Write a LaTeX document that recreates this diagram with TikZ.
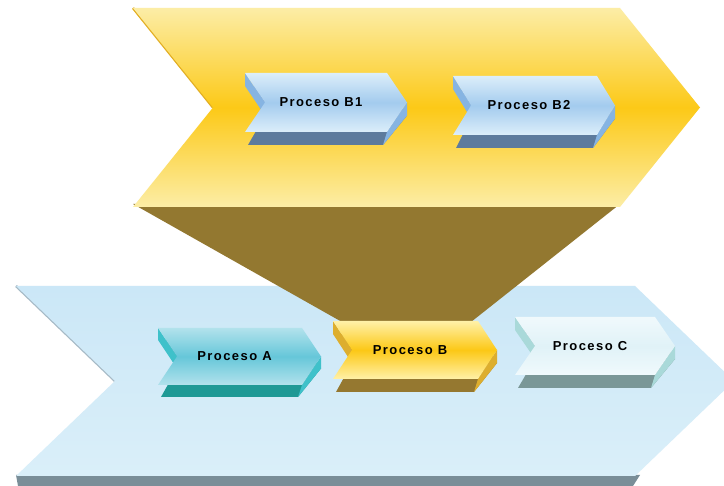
\documentclass[tikz,border=0pt]{standalone}
\usepackage{fontspec}
\setmainfont{Liberation Sans}
\newfontfamily\lblfont[LetterSpace=11]{Liberation Sans}

% large chevrons
\definecolor{bigYTop}{HTML}{FCEDA6}
\definecolor{bigYMid}{HTML}{FCC917}
\definecolor{bigYEdge}{HTML}{E2AE22}
\definecolor{funnelBrown}{HTML}{937830}
\definecolor{bigBTop}{HTML}{CBE7F7}
\definecolor{bigBBot}{HTML}{DAEFF9}
\definecolor{bigBBand}{HTML}{7A8E98}
\definecolor{bigBEdge}{HTML}{A6BAC6}
% process boxes: face top/middle, side strip, bottom band
\definecolor{blueTop}{HTML}{DCEEFA}
\definecolor{blueMid}{HTML}{A3CBEE}
\definecolor{blueSide}{HTML}{86B4E2}
\definecolor{blueBand}{HTML}{5D7B9D}
\definecolor{tealTop}{HTML}{B2E2EC}
\definecolor{tealMid}{HTML}{66C7D9}
\definecolor{tealSide}{HTML}{3FC1CA}
\definecolor{tealBand}{HTML}{1E9995}
\definecolor{goldTop}{HTML}{FFF1A8}
\definecolor{goldMid}{HTML}{FCC816}
\definecolor{goldSide}{HTML}{DDAE2E}
\definecolor{goldBand}{HTML}{957830}
\definecolor{paleTop}{HTML}{F0F9FC}
\definecolor{paleMid}{HTML}{E0F2F7}
\definecolor{paleSide}{HTML}{A9D9D9}
\definecolor{paleBand}{HTML}{7A9797}

\tikzset{
  lbl/.style={font=\lblfont\bfseries\fontsize{13}{15}\selectfont, text=black, inner sep=0pt, anchor=center},
}

% 3D chevron box:
% #1 name, #2 left x, #3 top y, #4 width, #5 height, #6 notch depth,
% #7 extrusion depth, #8 colour prefix, #9 label
\newcommand\procchev[9]{%
  \fill[#8Band] ({#2+2},{#3+#7}) -- ({#2+#4},{#3+#7}) -- ({#2+#4+#6},{#3+#5/2+#7})
    -- ({#2+#4-4},{#3+#5+#7}) -- ({#2+3},{#3+#5+#7}) -- ({#2+#6},{#3+#5/2+#7}) -- cycle;
  \fill[#8Side] ({#2},{#3}) -- ({#2+#6},{#3+#5/2}) -- ({#2+#6},{#3+#5/2+#7})
    -- ({#2},{#3+#7}) -- cycle;
  \fill[#8Side] ({#2+#4+#6},{#3+#5/2}) -- ({#2+#4},{#3+#5}) -- ({#2+#4-4},{#3+#5+#7})
    -- ({#2+#4+#6},{#3+#5/2+#7}) -- cycle;
  \shade[top color=#8Top, bottom color=#8Top, middle color=#8Mid]
    ({#2},{#3}) -- ({#2+#4},{#3}) -- ({#2+#4+#6},{#3+#5/2})
    -- ({#2+#4},{#3+#5}) -- ({#2},{#3+#5}) -- ({#2+#6},{#3+#5/2}) -- cycle;
  \node[lbl] (#1) at ({#2+(#4+#6)/2-5},{#3+#5/2}) {#9};%
}

\begin{document}
\begin{tikzpicture}[x=1pt, y=-1pt]
  \useasboundingbox (0,0) rectangle (724,486);
  \fill[white] (0,0) rectangle (724,486);
  \clip (0,0) rectangle (724,486);

  % lower (blue) value chain
  \fill[bigBBand] (16,475) -- (640,475) -- (633,486) -- (18,486) -- cycle;
  \draw[bigBEdge, line width=2.5pt] (16,286) -- (115,381);
  \shade[top color=bigBTop, bottom color=bigBBot]
    (16,286) -- (635,286) -- (734,381) -- (635,476) -- (16,476) -- (115,381) -- cycle;

  % funnel from the upper chain down to Proceso B
  \fill[funnelBrown] (133,204) -- (620,204) -- (471,322) -- (342,322) -- cycle;

  % upper (yellow) value chain
  \draw[bigYEdge, line width=2.5pt] (133,8) -- (213,107.5);
  \shade[top color=bigYTop, bottom color=bigYTop, middle color=bigYMid]
    (133,8) -- (620,8) -- (700,107.5) -- (620,207) -- (133,207) -- (213,107.5) -- cycle;

  % sub-processes of Proceso B
  \procchev{b1}{245}{73}{142}{59}{20}{13}{blue}{Proceso B1}
  \procchev{b2}{453}{76}{144}{59}{18}{13}{blue}{Proceso B2}

  % main processes
  \procchev{pa}{158}{328}{144}{57}{19}{12}{teal}{Proceso A}
  \procchev{pb}{333}{321}{145}{58}{19}{13}{gold}{Proceso B}
  \procchev{pc}{515}{317}{140}{58}{20}{13}{pale}{Proceso C}
\end{tikzpicture}
\end{document}
